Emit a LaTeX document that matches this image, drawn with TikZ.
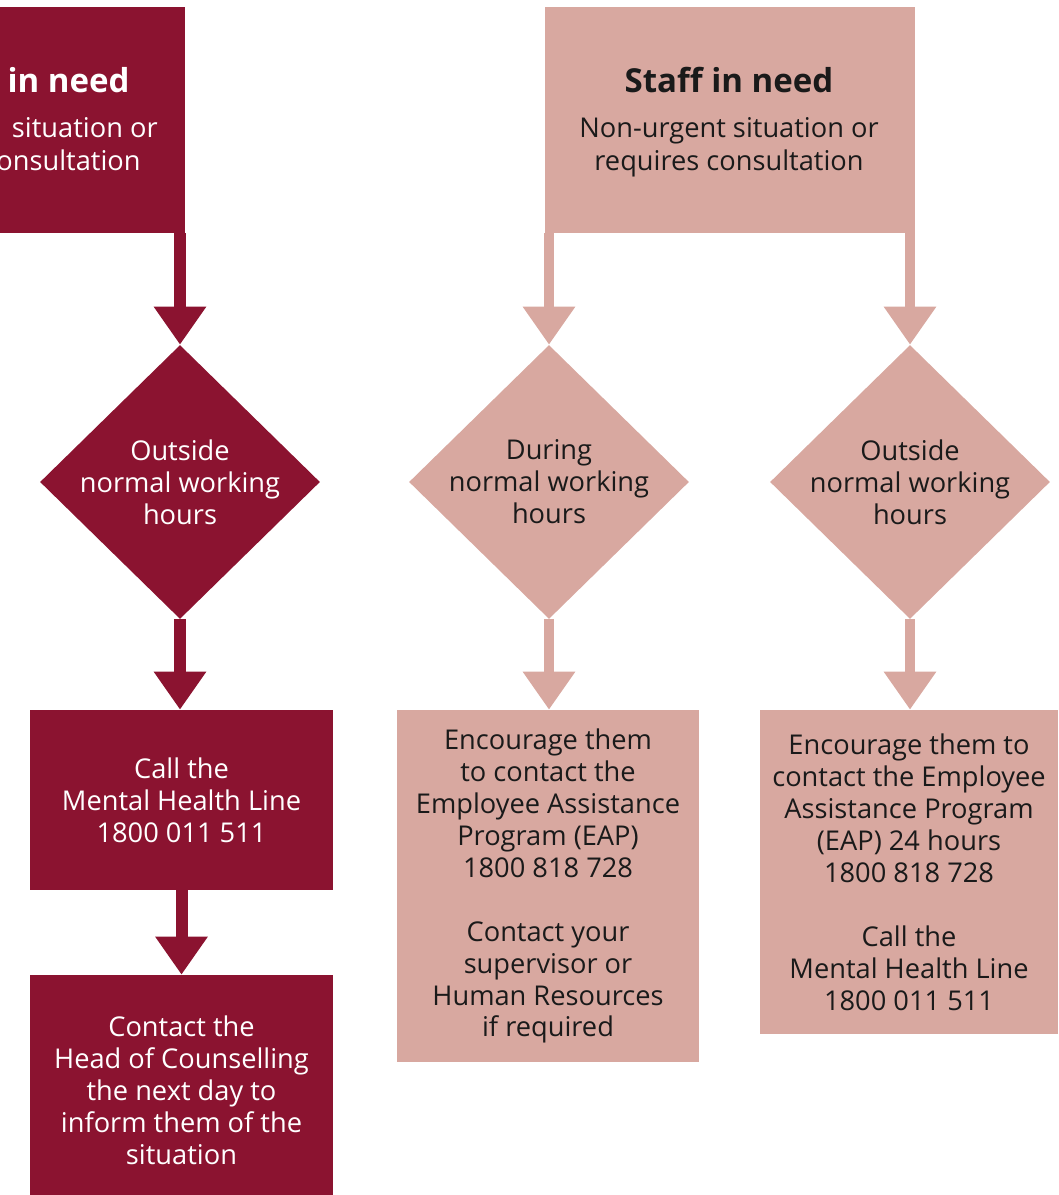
\documentclass[tikz,border=0pt]{standalone}
\usepackage{fontspec}
\setmainfont{Open Sans}
\usetikzlibrary{arrows.meta,shapes.geometric}
\definecolor{darkred}{RGB}{139,19,48}
\definecolor{rose}{RGB}{216,168,160}
\definecolor{ink}{RGB}{26,26,26}
\begin{document}
\begin{tikzpicture}[x=0.02cm,y=-0.02cm,
  box/.style={rectangle, inner sep=0pt, align=center, font=\fontsize{15.5}{18.2}\selectfont},
  dbox/.style={box, fill=darkred, text=white},
  pbox/.style={box, fill=rose, text=ink},
  dmd/.style={diamond, inner sep=0pt, minimum width=5.6cm, minimum height=5.48cm},
  lbl/.style={align=center, inner sep=0pt, font=\fontsize{15.5}{18.2}\selectfont},
  ttl/.style={inner sep=0pt, font=\fontsize{18.8}{20}\selectfont\bfseries},
  ln/.style={inner sep=0pt, font=\fontsize{15.5}{18.2}\selectfont},
  darr/.style={draw=darkred, line width=0.24cm, -{Triangle[length=0.76cm,width=1cm]}},
  parr/.style={draw=rose, line width=0.2cm, -{Triangle[length=0.76cm,width=1cm]}}]
\useasboundingbox (0,0) rectangle (1058,1195);
\clip (0,0) rectangle (1058,1195);

% top boxes
\node[dbox, minimum width=7.4cm, minimum height=4.52cm] (tl) at (0,120) {};
\node[pbox, minimum width=7.4cm, minimum height=4.52cm] (tr) at (730,120) {};
\node[ttl, text=white, anchor=base east] (tlt1) at (130,93) {in need};
\node[ln, text=white, anchor=base east] (tlt2) at (158,138) {situation or};
\node[ln, text=white, anchor=base east] (tlt3) at (141,171) {consultation};
\node[ttl, text=ink, anchor=base] (trt1) at (729,93) {Staff in need};
\node[ln, text=ink, anchor=base] (trt2) at (729,138) {Non-urgent situation or};
\node[ln, text=ink, anchor=base] (trt3) at (729,171) {requires consultation};

% diamonds
\node[dmd, fill=darkred] (d1) at (180,482) {};
\node[lbl, text=white] (d1t) at (d1.center) {Outside\\normal working\\hours};
\node[dmd, fill=rose] (d2) at (549,482) {};
\node[lbl, text=ink] (d2t) at (d2.center) {During\\normal working\\hours};
\node[dmd, fill=rose] (d3) at (910,482) {};
\node[lbl, text=ink] (d3t) at (d3.center) {Outside\\normal working\\hours};

% lower boxes
\node[dbox, minimum width=6.06cm, minimum height=3.6cm] (b1) at (181.5,800) {Call the\\Mental Health Line\\1800 011 511};
\node[dbox, minimum width=6.06cm, minimum height=4.6cm] (b2) at (181.5,1090) {Contact the\\Head of Counselling\\the next day to\\inform them of the\\situation};
\node[pbox, minimum width=6.04cm, minimum height=7.04cm] (b3) at (548,886) {Encourage them\\to contact the\\Employee Assistance\\Program (EAP)\\1800 818 728\\[18.2pt]Contact your\\supervisor or\\Human Resources\\if required};
\node[pbox, minimum width=5.96cm, minimum height=6.48cm] (b4) at (909,872) {Encourage them to\\contact the Employee\\Assistance Program\\(EAP) 24 hours\\1800 818 728\\[18.2pt]Call the\\Mental Health Line\\1800 011 511};

% connectors
\draw[darr] (d1.north |- tl.south) -- (d1.north);
\draw[darr] (d1.south) -- (b1.north -| d1.south);
\draw[darr] (b1.south) -- (b2.north);
\draw[parr] (d2.north |- tr.south) -- (d2.north);
\draw[parr] (d3.north |- tr.south) -- (d3.north);
\draw[parr] (d2.south) -- (b3.north -| d2.south);
\draw[parr] (d3.south) -- (b4.north -| d3.south);
\end{tikzpicture}
\end{document}
